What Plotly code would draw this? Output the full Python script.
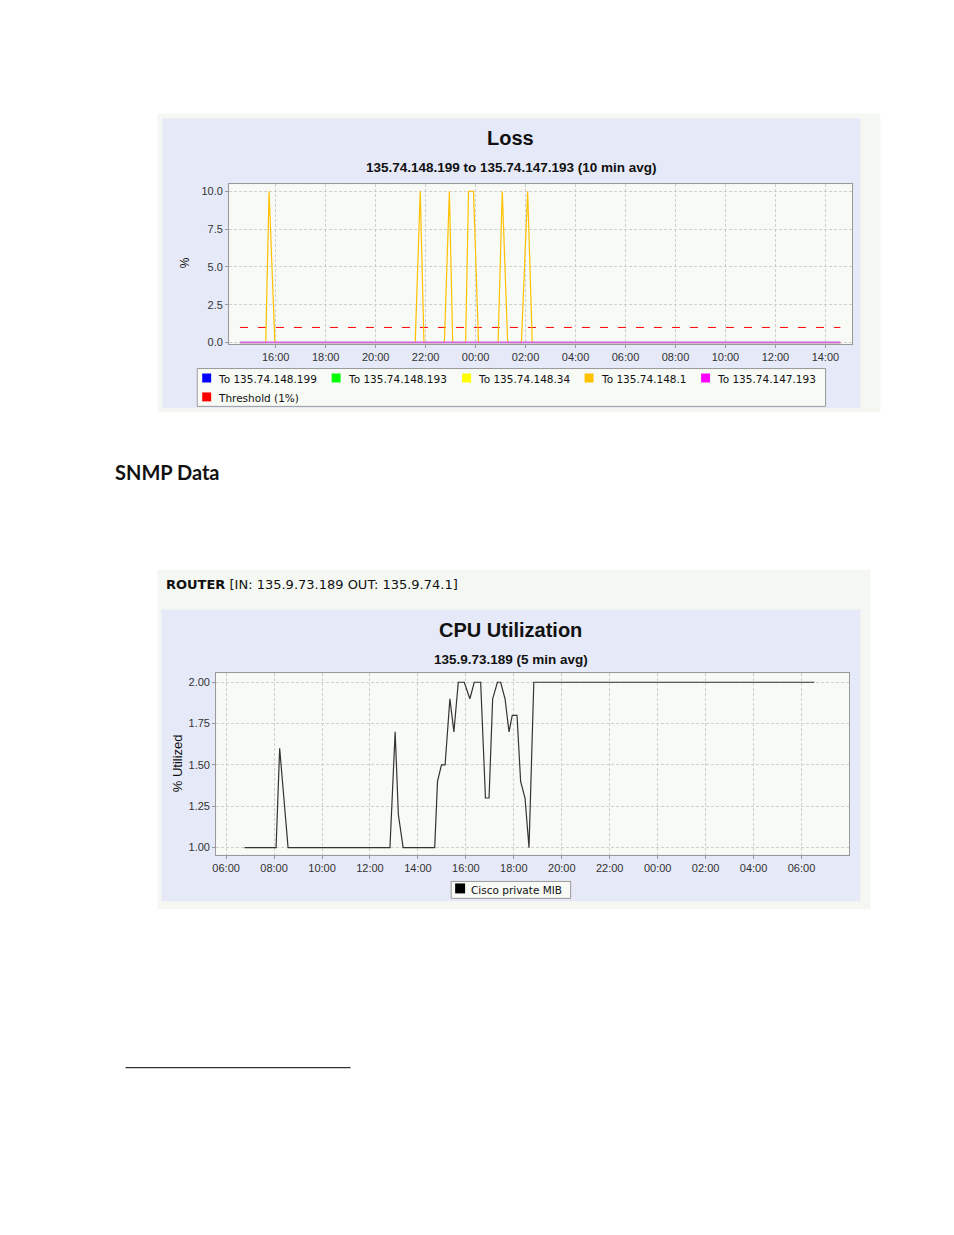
import plotly.graph_objects as go

W, H = 954, 1235
OX, OY = 11, 7
def py(p): return 1 - (p - OY) / H
def px(p): return (p - OX) / W

# ---------------- Loss data ----------------
loss_x = ["2024-01-01 14:34", "2024-01-01 15:36", "2024-01-01 15:44", "2024-01-01 15:58",
          "2024-01-01 21:35", "2024-01-01 21:47", "2024-01-01 21:56",
          "2024-01-01 22:45", "2024-01-01 22:57", "2024-01-01 23:05",
          "2024-01-01 23:36", "2024-01-01 23:43", "2024-01-01 23:55", "2024-01-02 00:07",
          "2024-01-02 00:54", "2024-01-02 01:04", "2024-01-02 01:17",
          "2024-01-02 01:50", "2024-01-02 02:05", "2024-01-02 02:16",
          "2024-01-02 14:36"]
loss_148_1 = [0, 0, 10, 0, 0, 10, 0, 0, 10, 0, 0, 10, 10, 0, 0, 10, 0, 0, 10, 0, 0]
base_x = ["2024-01-01 14:34", "2024-01-02 14:36"]
base_y = [0, 0]
thresh_y = [1, 1]
loss_ticks = ["2024-01-01 %02d:00" % h for h in (16, 18, 20, 22)] + \
             ["2024-01-02 %02d:00" % h for h in (0, 2, 4, 6, 8, 10, 12, 14)]

# ---------------- CPU data ----------------
cpu_x = ["06:46", "08:05", "08:14", "08:25", "08:35", "12:50", "13:03", "13:11", "13:23",
         "14:42", "14:49", "14:59", "15:08", "15:20", "15:30", "15:41", "15:56", "16:10",
         "16:21", "16:37", "16:49", "16:58", "17:07", "17:19", "17:27", "17:38", "17:48",
         "17:56", "18:08", "18:17", "18:28", "18:38", "18:50"]
cpu_x = ["2024-01-01 " + t for t in cpu_x] + ["2024-01-02 06:32"]
cpu_y = [1.0, 1.0, 1.6, 1.3, 1.0, 1.0, 1.7, 1.2, 1.0,
         1.0, 1.4, 1.5, 1.5, 1.9, 1.7, 2.0, 2.0, 1.9,
         2.0, 2.0, 1.3, 1.3, 1.9, 2.0, 2.0, 1.9, 1.7,
         1.8, 1.8, 1.4, 1.3, 1.0, 2.0, 2.0]
cpu_ticks = ["2024-01-01 %02d:00" % h for h in (6, 8, 10, 12, 14, 16, 18, 20, 22)] + \
            ["2024-01-02 %02d:00" % h for h in (0, 2, 4, 6)]

fig = go.Figure()
fig.add_trace(go.Scatter(x=base_x, y=thresh_y, mode="lines", xaxis="x", yaxis="y",
                         line=dict(color="#ff0000", width=1, dash="8px,10px"), hoverinfo="skip"))
fig.add_trace(go.Scatter(x=loss_x, y=loss_148_1, mode="lines", xaxis="x", yaxis="y",
                         line=dict(color="#ffc000", width=1.2)))
fig.add_trace(go.Scatter(x=base_x, y=base_y, mode="lines", xaxis="x", yaxis="y",
                         line=dict(color="#cc66dd", width=2)))
fig.add_trace(go.Scatter(x=cpu_x, y=cpu_y, mode="lines", xaxis="x2", yaxis="y2",
                         line=dict(color="#333333", width=1.2)))

ax_common = dict(showgrid=True, gridcolor="#cfcfcf", griddash="3px,2px", gridwidth=1,
                 showline=True, linecolor="#999999", mirror=True, ticks="outside",
                 ticklen=3, tickcolor="#999999", zeroline=False, layer="below traces",
                 tickfont=dict(family="Liberation Sans", size=11, color="#333"))

fig.update_layout(
    width=W, height=H, margin=dict(l=0, r=0, t=0, b=0), showlegend=False,
    paper_bgcolor="white", plot_bgcolor="rgba(0,0,0,0)",
    xaxis=dict(**ax_common, domain=[px(229), px(855)], anchor="y",
               range=["2024-01-01 14:08", "2024-01-02 15:05"],
               tickvals=loss_ticks, tickformat="%H:%M"),
    yaxis=dict(**ax_common, domain=[py(344), py(184)], anchor="x",
               range=[-0.07, 10.46], tickvals=[0, 2.5, 5, 7.5, 10], tickformat=".1f"),
    xaxis2=dict(**ax_common, domain=[px(216), px(852)], anchor="y2",
                range=["2024-01-01 05:35", "2024-01-02 08:00"],
                tickvals=cpu_ticks, tickformat="%H:%M"),
    yaxis2=dict(**ax_common, domain=[py(857), py(675)], anchor="x2",
                range=[0.958, 2.054], tickvals=[1, 1.25, 1.5, 1.75, 2], tickformat=".2f"),
)

shapes = []
def rect(x0, y0, x1, y1, fill, line=None, lw=0, layer="below"):
    shapes.append(dict(type="rect", xref="paper", yref="paper", x0=px(x0), x1=px(x1),
                       y0=py(y1), y1=py(y0), fillcolor=fill, layer=layer,
                       line=dict(color=line or fill, width=lw)))
rect(157, 113, 883, 413, "#f4f7f2")
rect(162, 118, 863, 409, "#e6e9f7")
rect(229, 184, 855, 344, "#f7faf5")
rect(157, 571, 873, 912, "#f4f7f2")
rect(161, 611, 863, 904, "#e6e9f7")
rect(216, 675, 852, 857, "#f7faf5")
# legends
rect(197, 369, 828, 407, "#f7faf5", "#999999", 1)
rect(452, 884, 572, 901, "#f7faf5", "#999999", 1)
anns = []
def text(x, y, s, size, bold=False, family="Liberation Sans", anchor="left", color="#111", rot=0):
    anns.append(dict(xref="paper", yref="paper", x=px(x), y=py(y), text=("<b>%s</b>" % s) if bold else s,
                     showarrow=False, xanchor=anchor, yanchor="middle", textangle=rot,
                     font=dict(family=family, size=size, color=color)))
leg = [(202, 216, "#0000ff", "To 135.74.148.199"), (332, 346, "#00ff00", "To 135.74.148.193"),
       (463, 477, "#ffff00", "To 135.74.148.34"), (586, 600, "#ffc000", "To 135.74.148.1"),
       (703, 717, "#ff00ff", "To 135.74.147.193")]
for sx, tx, c, s in leg:
    rect(sx, 374, sx + 9, 383, c, layer="above")
    text(tx, 380, s, 10.5, family="DejaVu Sans")
rect(202, 393, 211, 402, "#ff0000", layer="above")
text(216, 399, "Threshold (1%)", 10.5, family="DejaVu Sans")
rect(456, 886, 466, 896, "#000000", layer="above")
text(470, 893, "Cisco private MIB", 10.5, family="DejaVu Sans")

text(512, 138, "Loss", 20, True, anchor="center")
text(512, 167, "135.74.148.199 to 135.74.147.193 (10 min avg)", 13.5, True, anchor="center")
text(185, 263, "%", 12, anchor="center", rot=-90)
text(112, 473, "SNMP Data", 20, True, family="Lato")
text(164, 586, "<b>ROUTER</b> [IN: 135.9.73.189 OUT: 135.9.74.1]", 13, family="DejaVu Sans")
text(512, 632, "CPU Utilization", 20, True, anchor="center")
text(512, 661, "135.9.73.189 (5 min avg)", 13.5, True, anchor="center")
text(178, 765, "% Utilized", 13, anchor="center", rot=-90)

shapes.append(dict(type="line", xref="paper", yref="paper", x0=px(125), x1=px(351),
                   y0=py(1071), y1=py(1071), line=dict(color="black", width=1)))
fig.update_layout(shapes=shapes, annotations=anns)
fig.write_html("out.html")
